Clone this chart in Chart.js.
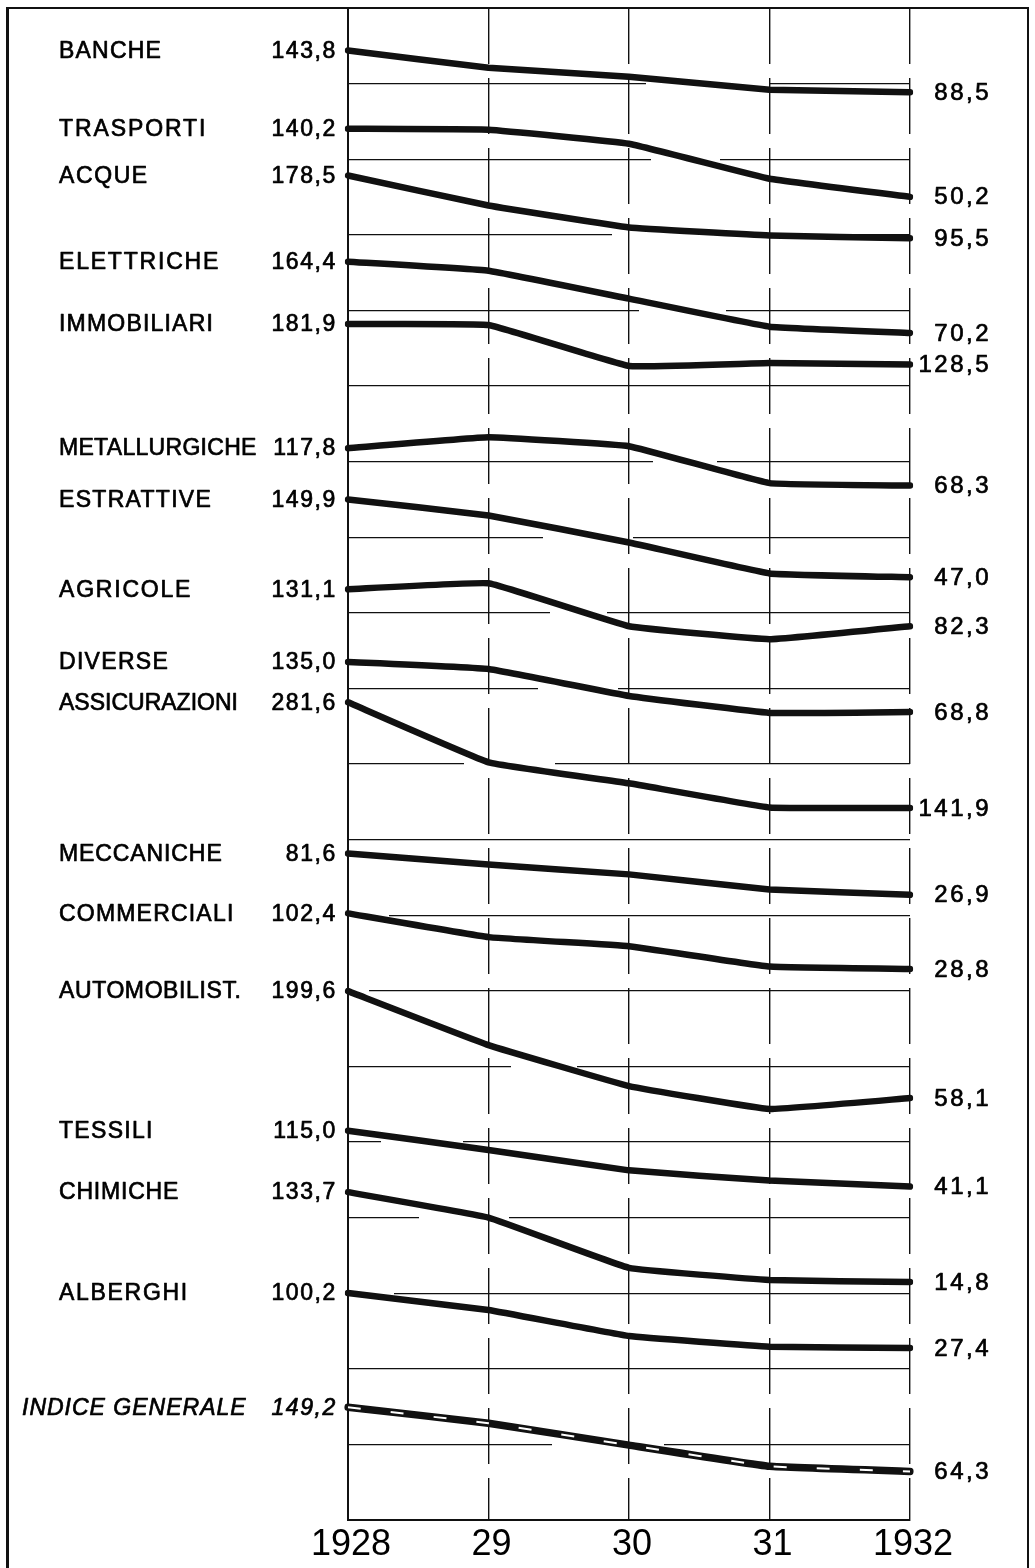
<!DOCTYPE html>
<html>
<head>
<meta charset="utf-8">
<title>Indici azionari per settore 1928-1932</title>
<script src="https://cdn.jsdelivr.net/npm/chart.js@4.4.1/dist/chart.umd.min.js"></script>
<style>
  html, body { margin: 0; padding: 0; background: #fff; }
  #wrap { position: relative; width: 1035px; height: 1568px; overflow: hidden; background: #fff; }
  #frame { position: absolute; left: 6px; top: 7px; width: 1018px; height: 1600px;
           border-left: 3px solid #111; border-top: 2px solid #111; border-right: 2px solid #111; }
  canvas { position: absolute; left: 0; top: 0; }
</style>
</head>
<body>
<div id="wrap">
  <div id="frame"></div>
  <canvas id="c" width="1035" height="1568"></canvas>
</div>
<script>
// ---------------- DATA ----------------
const years = ['1928', '29', '30', '31', '1932'];

const sectors = [
  'BANCHE', 'TRASPORTI', 'ACQUE', 'ELETTRICHE', 'IMMOBILIARI',
  'METALLURGICHE', 'ESTRATTIVE', 'AGRICOLE', 'DIVERSE', 'ASSICURAZIONI',
  'MECCANICHE', 'COMMERCIALI', 'AUTOMOBILIST.', 'TESSILI', 'CHIMICHE',
  'ALBERGHI', 'INDICE GENERALE'
];

const banche           = [143.8, 121.0, 109.0,  92.0,  88.5];
const trasporti        = [140.2, 139.0, 120.4,  74.1,  50.2];
const acque            = [178.5, 138.8, 109.7,  99.2,  95.5];
const elettriche       = [164.4, 152.5, 115.5,  78.5,  70.2];
const immobiliari      = [181.9, 180.6, 126.4, 130.3, 128.5];
const metallurgiche    = [117.8, 132.3, 120.4,  71.5,  68.3];
const estrattive       = [149.9, 128.7,  93.0,  52.1,  47.0];
const agricole         = [131.1, 139.0,  82.2,  65.0,  82.3];
const diverse          = [135.0, 125.7,  90.0,  67.6,  68.8];
const assicurazioni    = [281.6, 202.3, 174.5, 142.5, 141.9];
const meccaniche       = [ 81.6,  67.0,  54.0,  34.0,  26.9];
const commerciali      = [102.4,  71.0,  59.0,  32.0,  28.8];
const automobilistiche = [199.6, 128.2,  74.0,  43.6,  58.1];
const tessili          = [115.0,  89.5,  62.5,  49.0,  41.1];
const chimiche         = [133.7, 100.0,  33.5,  17.5,  14.8];
const alberghi         = [100.2,  77.7,  43.3,  29.3,  27.4];
const indiceGenerale   = [149.2, 128.0,  99.0,  71.0,  64.3];

const seriesValues = [
  banche, trasporti, acque, elettriche, immobiliari,
  metallurgiche, estrattive, agricole, diverse, assicurazioni,
  meccaniche, commerciali, automobilistiche, tessili, chimiche,
  alberghi, indiceGenerale
];

// ---------------- LAYOUT (not data) ----------------
// each band of the grid = 100 index points; which grid line is each series' 100 level
const baseBand = [19, 18, 17, 16, 15, 14, 13, 12, 11, 9, 9, 8, 6, 5, 4, 3, 1];
const nameSpacing = [1.2, 1.9, 1.6, 1.8, 1.2, 0.3, 1.3, 1.8, 1.3, 0.0, 0.9, 1.2, 0.6, 1.3, 0.8, 1.7, 1.0];
const nameLeft = 59, generalLeft = 22;
const startRight = 337, endRight = 991;
const BANDS = 20;
// broken-line look of the horizontal grid (by grid line index from the bottom)
const gridDash = {
  19: [297, 124, 1000, 0], 18: [302, 69, 1000, 0], 17: [263, 209, 1000, 0],
  16: [290, 87, 1000, 0], 14: [304, 64, 1000, 0], 13: [194, 90, 1000, 0],
  12: [201, 57, 1000, 0], 11: [189, 80, 1000, 0], 10: [115, 91, 1000, 0],
  8: [0, 40, 1000, 0], 7: [0, 20, 1000, 0], 6: [162, 66, 1000, 0],
  5: [32, 82, 1000, 0], 4: [70, 90, 1000, 0], 3: [0, 45, 1000, 0],
  1: [203, 112, 1000, 0]
};
const INK = '#111';
const FONT = '"Liberation Sans", Arial, sans-serif';

const fmt = v => v.toFixed(1).replace('.', ',');

// ---------------- CHART ----------------
const datasets = sectors.map((name, i) => ({
  label: name,
  data: seriesValues[i],
  yAxisID: 'b' + baseBand[i],
  borderColor: INK,
  borderWidth: i === sectors.length - 1 ? 7.5 : 6.5,
  pointRadius: 0,
  tension: 0.08,
  borderCapStyle: 'round',
  borderJoinStyle: 'round',
  fill: false,
  order: 1
}));
// white dashes inside the general index line (drawn on top)
datasets.push({
  label: 'INDICE GENERALE (tratteggio)',
  data: indiceGenerale,
  yAxisID: 'b1',
  borderColor: '#fff',
  borderWidth: 2,
  borderDash: [13, 30],
  pointRadius: 0,
  tension: 0.08,
  fill: false,
  order: 0
});

const scales = {
  x: {
    type: 'category',
    offset: false,
    grid: { color: INK, lineWidth: 1.4, drawTicks: false, offset: false },
    border: {
      display: true, color: INK, width: 2,
      dash: ctx => (ctx.tick && ctx.index > 0) ? [56, 14] : []
    },
    ticks: { color: '#000', font: { family: FONT, size: 36, lineHeight: 1.2 }, padding: 3,
             labelOffset: 3, maxRotation: 0, autoSkip: false }
  },
  y: {
    position: 'left',
    min: 0, max: BANDS,
    ticks: { display: false, stepSize: 1 },
    grid: { color: INK, lineWidth: 1.3, drawTicks: false },
    border: {
      display: true, color: INK, width: 2,
      dash: ctx => (ctx.tick && gridDash[ctx.tick.value]) ? gridDash[ctx.tick.value] : []
    }
  }
};
[...new Set(baseBand)].forEach(k => {
  scales['b' + k] = { display: false, min: 100 - 100 * k, max: 100 * (BANDS - k) + 100 };
});

function drawText(ctx, text, x, y) {
  ctx.strokeText(text, x, y);
  ctx.fillText(text, x, y);
}

const sideLabels = {
  id: 'sideLabels',
  afterDatasetsDraw(chart) {
    const ctx = chart.ctx;
    ctx.save();
    ctx.fillStyle = '#000';
    ctx.strokeStyle = '#000';
    ctx.lineWidth = 0.7;
    ctx.lineJoin = 'round';
    ctx.textBaseline = 'middle';
    sectors.forEach((name, i) => {
      const vals = seriesValues[i];
      const sc = chart.scales['b' + baseBand[i]];
      const y0 = sc.getPixelForValue(vals[0]);
      const y1 = sc.getPixelForValue(vals[vals.length - 1]);
      const general = i === sectors.length - 1;
      ctx.font = (general ? 'italic ' : '') + '23px ' + FONT;
      ctx.letterSpacing = nameSpacing[i] + 'px';
      ctx.textAlign = 'left';
      drawText(ctx, name, general ? generalLeft : nameLeft, y0 + 1);
      ctx.letterSpacing = '1.6px';
      ctx.textAlign = 'right';
      drawText(ctx, fmt(vals[0]), startRight, y0 + 1);
      ctx.font = '24px ' + FONT;
      ctx.letterSpacing = '2.5px';
      drawText(ctx, fmt(vals[vals.length - 1]), endRight, y1 + 1);
    });
    ctx.restore();
  }
};

new Chart(document.getElementById('c'), {
  type: 'line',
  data: { labels: years, datasets },
  options: {
    responsive: false,
    devicePixelRatio: 1,
    animation: false,
    events: [],
    layout: { padding: { left: 348, right: 125, top: 8, bottom: -1.2 } },
    plugins: { legend: { display: false }, tooltip: { enabled: false } },
    scales
  },
  plugins: [sideLabels]
});
</script>
</body>
</html>
